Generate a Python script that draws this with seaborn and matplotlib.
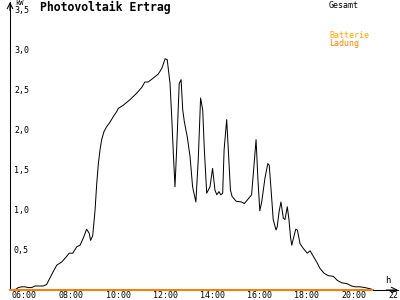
import matplotlib
matplotlib.use("Agg")
import matplotlib.pyplot as plt
import matplotlib.transforms as mtransforms
import seaborn as sns
import pandas as pd

# ---- data (hours of day, kW) ----
gesamt_hours = [5.85, 6.04, 6.18, 6.33, 6.47, 6.61, 6.75, 6.89, 7.25, 7.39, 7.53, 7.67, 7.82,
                8.03, 8.24, 8.35, 8.50, 8.67, 8.81, 8.95, 9.09, 9.20, 9.26, 9.35, 9.45, 9.52,
                9.59, 9.66, 9.73, 9.83, 9.94, 10.09, 10.23, 10.37, 10.44, 10.65, 10.94, 11.22,
                11.43, 11.57, 11.71, 11.93, 12.14, 12.29, 12.43, 12.52, 12.64, 12.71, 12.78,
                12.85, 12.92, 13.03, 13.11, 13.18, 13.25, 13.37, 13.49, 13.60, 13.74, 13.84,
                13.94, 14.03, 14.10, 14.20, 14.34, 14.45, 14.55, 14.63, 14.72, 14.80, 14.88,
                14.94, 15.05, 15.12, 15.21, 15.28, 15.45, 15.69, 15.80, 15.97, 16.11, 16.21,
                16.30, 16.38, 16.46, 16.54, 16.68, 16.80, 16.86, 16.94, 17.03, 17.15, 17.20,
                17.28, 17.36, 17.46, 17.53, 17.63, 17.70, 17.77, 17.82, 17.91, 17.99, 18.06,
                18.17, 18.31, 18.48, 18.60, 18.74, 18.88, 19.02, 19.19, 19.37, 19.59, 19.76,
                19.94, 20.16, 20.37, 20.51, 20.72, 20.94, 21.22, 21.29]
gesamt_kw = [0.0, 0.0, 0.03, 0.04, 0.04, 0.03, 0.03, 0.05, 0.05, 0.07, 0.15, 0.23, 0.31,
             0.35, 0.42, 0.46, 0.46, 0.54, 0.56, 0.65, 0.76, 0.71, 0.62, 0.68, 1.00, 1.33,
             1.58, 1.75, 1.88, 1.98, 2.04, 2.10, 2.17, 2.23, 2.27, 2.31, 2.38, 2.46,
             2.53, 2.60, 2.60, 2.65, 2.70, 2.77, 2.89, 2.88, 2.58, 2.17, 1.71,
             1.29, 1.75, 2.58, 2.63, 2.25, 2.10, 1.92, 1.67, 1.29, 1.10, 1.63,
             2.40, 2.25, 1.75, 1.21, 1.29, 1.52, 1.25, 1.19, 1.23, 1.19, 1.21,
             1.75, 2.13, 1.75, 1.25, 1.17, 1.11, 1.10, 1.08, 1.14, 1.19, 1.55,
             1.88, 1.38, 0.99, 1.10, 1.40, 1.58, 1.56, 1.25, 0.88, 0.75, 0.79,
             0.98, 1.10, 0.90, 0.88, 1.04, 0.88, 0.65, 0.56, 0.67, 0.76, 0.75,
             0.58, 0.52, 0.46, 0.49, 0.42, 0.35, 0.27, 0.21, 0.18, 0.17, 0.12,
             0.09, 0.08, 0.05, 0.04, 0.04, 0.03, 0.01, 0.0]
ladung_hours = [5.85, 21.25]
ladung_kw = [0.0, 0.0]

x_ticks = [6, 8, 10, 12, 14, 16, 18, 20, 22]
x_tick_labels = ["06:00", "08:00", "10:00", "12:00", "14:00", "16:00", "18:00", "20:00", "22:00"]
y_ticks = [0.5, 1.0, 1.5, 2.0, 2.5, 3.0, 3.5]
y_tick_labels = ["0,5", "1,0", "1,5", "2,0", "2,5", "3,0", "3,5"]

title = "Photovoltaik Ertrag"
legend_items = [("Gesamt", "#000000"), ("Batterie", "#FFA800"), ("Ladung", "#FF8000")]

sns.set_style("white")
plt.rcParams["font.family"] = ["DejaVu Sans Mono", "DejaVu Sans"]

df_g = pd.DataFrame({"t": gesamt_hours, "kw": gesamt_kw})
df_l = pd.DataFrame({"t": ladung_hours, "kw": ladung_kw})

fig = plt.figure(figsize=(4, 3), dpi=100)
fig.patch.set_facecolor("white")
ax = fig.add_axes([10 / 400, 10 / 300, 388 / 400, 288 / 300])
ax.set_facecolor("white")

sns.lineplot(data=df_g, x="t", y="kw", color="black", linewidth=0.72, ax=ax, zorder=3)
sns.lineplot(data=df_l, x="t", y="kw", color="#FF8000", linewidth=1.4, ax=ax,
             antialiased=False, zorder=4, clip_on=False)

ax.set_xlim(5.83, 22.34)
ax.set_ylim(0, 3.6)
ax.set_xlabel("")
ax.set_ylabel("")

for s in ["top", "right"]:
    ax.spines[s].set_visible(False)
for s in ["left", "bottom"]:
    ax.spines[s].set_color("black")
    ax.spines[s].set_linewidth(0.75)

ax.set_xticks(x_ticks)
ax.set_xticklabels([])
ax.set_yticks(y_ticks)
ax.set_yticklabels([])
ax.tick_params(axis="both", direction="inout", length=5, width=0.75, color="black")

# tick labels
xoff = mtransforms.offset_copy(ax.get_xaxis_transform(), fig=fig, x=-2, y=-1, units="dots")
for t, lab in zip(x_ticks, x_tick_labels):
    ax.text(t, 0, lab, transform=xoff, ha="left", va="top", fontsize=6.0, color="black",
            clip_on=False)
yoff = mtransforms.offset_copy(ax.get_yaxis_transform(), fig=fig, x=4, y=0, units="dots")
for v, lab in zip(y_ticks, y_tick_labels):
    ax.text(0, v, lab, transform=yoff, ha="left", va="center", fontsize=6.0, color="black")

# axis arrows
ax.annotate("", xy=(1.0, 0), xytext=(0.97, 0), xycoords="axes fraction",
            arrowprops=dict(arrowstyle="->", lw=0.75, color="black", shrinkA=0, shrinkB=0))
ax.annotate("", xy=(0, 1.0), xytext=(0, 0.97), xycoords="axes fraction",
            arrowprops=dict(arrowstyle="->", lw=0.75, color="black", shrinkA=0, shrinkB=0))

# unit labels
fig.text(15 / 400, 1 - 0 / 300, "kW", ha="left", va="top", fontsize=5.0, color="black")
fig.text(385 / 400, 1 - 276 / 300, "h", ha="left", va="top", fontsize=6.5, color="black")

# title
fig.text(40 / 400, 1 - 1 / 300, title, ha="left", va="top", fontsize=8.3,
         fontweight="bold", color="black")

# legend texts
fig.text(329 / 400, 1 - 1 / 300, legend_items[0][0], ha="left", va="top", fontsize=6,
         color=legend_items[0][1])
fig.text(329 / 400, 1 - 31 / 300, legend_items[1][0], ha="left", va="top", fontsize=6,
         color=legend_items[1][1])
fig.text(329 / 400, 1 - 39 / 300, legend_items[2][0], ha="left", va="top", fontsize=6,
         color=legend_items[2][1])

fig.savefig("out.png", dpi=100, facecolor="white")
